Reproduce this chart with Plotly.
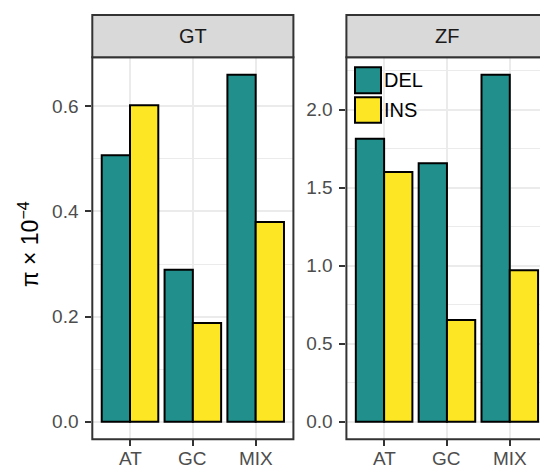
import plotly.graph_objects as go

# Nucleotide diversity (pi x 10^-4) by indel type and sequence context
categories = ["AT", "GC", "MIX"]
gt_del = [0.507, 0.289, 0.660]
gt_ins = [0.602, 0.188, 0.380]
zf_del = [1.813, 1.657, 2.224]
zf_ins = [1.600, 0.652, 0.971]
panels = ["GT", "ZF"]
series = ["DEL", "INS"]

W, H = 540, 469
TEAL = "#21908C"
YELLOW = "#FDE725"
colors = {"DEL": TEAL, "INS": YELLOW}


def px(x):
    return x / W


def py(y):
    return 1 - y / H


# panel geometry (pixels)
P1_L, P1_R = 92.3, 293.4
P2_L, P2_R = 346.4, 547.4
P_T, P_B = 57.3, 439.2
S_T = 15.0
unit_px = (P1_R - P1_L) / 3.2

fig = go.Figure()

data = {
    ("GT", "DEL"): gt_del, ("GT", "INS"): gt_ins,
    ("ZF", "DEL"): zf_del, ("ZF", "INS"): zf_ins,
}
for i, panel in enumerate(panels):
    ax = "" if i == 0 else "2"
    for s in series:
        fig.add_trace(go.Bar(
            x=categories, y=data[(panel, s)], name=s,
            xaxis="x" + ax, yaxis="y" + ax,
            marker=dict(color=colors[s], line=dict(color="black", width=2)),
            showlegend=False, offsetgroup=s,
        ))

FAMILY = "Liberation Sans, Arial, sans-serif"
tickfont = dict(family=FAMILY, size=19, color="#4D4D4D")
common_x = dict(
    type="category", showgrid=True, gridcolor="#EBEBEB", gridwidth=1.8,
    ticks="outside", ticklen=6, tickwidth=2, tickcolor="#333333",
    showticklabels=False, showline=False, zeroline=False, fixedrange=True,
    automargin=False,
)
common_y = dict(
    showgrid=True, gridcolor="#EBEBEB", gridwidth=1.8,
    ticks="outside", ticklen=6, tickwidth=2, tickcolor="#333333",
    tickfont=tickfont, showline=False, zeroline=False, tickformat=".1f",
    ticklabelstandoff=3, automargin=False,
)

ydom = [py(P_B), py(P_T)]
gt_max = max(gt_del + gt_ins)
zf_max = max(zf_del + zf_ins)

fig.update_layout(
    width=W, height=H,
    margin=dict(l=0, r=0, t=0, b=0, autoexpand=False),
    paper_bgcolor="white", plot_bgcolor="white",
    barmode="group", bargap=0.1, bargroupgap=0,
    xaxis=dict(domain=[px(P1_L), px(P1_R)], range=[-0.6, 2.6], anchor="y", **common_x),
    yaxis=dict(domain=ydom, range=[-0.05 * gt_max, 1.05 * gt_max], anchor="x",
               dtick=0.2, tick0=0,
               minor=dict(dtick=0.1, tick0=0, showgrid=True, gridcolor="#EBEBEB", gridwidth=0.9),
               **common_y),
    xaxis2=dict(domain=[px(P2_L), 1.0],
                range=[-0.6, -0.6 + (W - P2_L) / unit_px], anchor="y2", **common_x),
    yaxis2=dict(domain=ydom, range=[-0.05 * zf_max, 1.05 * zf_max], anchor="x2",
                dtick=0.5, tick0=0,
                minor=dict(dtick=0.25, tick0=0, showgrid=True, gridcolor="#EBEBEB", gridwidth=0.9),
                **common_y),
    font=dict(family=FAMILY),
)

shapes = []
annotations = []
for i, (panel, (l, r)) in enumerate(zip(panels, [(P1_L, P1_R), (P2_L, P2_R)])):
    # panel border
    shapes.append(dict(type="rect", xref="paper", yref="paper",
                       x0=px(l), x1=px(r), y0=py(P_B), y1=py(P_T),
                       line=dict(color="#333333", width=2), fillcolor="rgba(0,0,0,0)",
                       layer="above"))
    # facet strip
    shapes.append(dict(type="rect", xref="paper", yref="paper",
                       x0=px(l), x1=px(r), y0=py(P_T), y1=py(S_T),
                       line=dict(color="#333333", width=2), fillcolor="#D9D9D9",
                       layer="above"))
    annotations.append(dict(text=panel, xref="paper", yref="paper",
                            x=px((l + r) / 2), y=py((S_T + P_T) / 2),
                            showarrow=False, xanchor="center", yanchor="middle",
                            font=dict(family=FAMILY, size=20, color="#1A1A1A")))
    # category labels under each panel's x axis
    xref = "x" if i == 0 else "x2"
    for c in categories:
        annotations.append(dict(text=c, xref=xref, yref="paper",
                                x=c, y=py(458.5),
                                showarrow=False, xanchor="center", yanchor="middle",
                                font=tickfont))

# legend drawn inside the ZF panel
shapes.append(dict(type="rect", xref="paper", yref="paper",
                   x0=px(350), x1=px(432), y0=py(127), y1=py(62),
                   line=dict(width=0), fillcolor="white", layer="between"))
key_rows = [(67.3, 93.3), (97.3, 122.7)]
for s, (t, b) in zip(series, key_rows):
    shapes.append(dict(type="rect", xref="paper", yref="paper",
                       x0=px(355), x1=px(381), y0=py(b), y1=py(t),
                       line=dict(color="black", width=2), fillcolor=colors[s],
                       layer="above"))
    annotations.append(dict(text=s, xref="paper", yref="paper",
                            x=px(382), y=py((t + b) / 2),
                            showarrow=False, xanchor="left", yanchor="middle",
                            font=dict(family=FAMILY, size=20, color="black")))

# y-axis title
annotations.append(dict(text="π × 10<sup>−4</sup>", xref="paper", yref="paper",
                        x=px(29), y=py((P_T + P_B) / 2 - 4), textangle=-90,
                        showarrow=False, xanchor="center", yanchor="middle",
                        font=dict(family=FAMILY, size=23, color="black")))

fig.update_layout(shapes=shapes, annotations=annotations)
fig.write_html("out.html")
